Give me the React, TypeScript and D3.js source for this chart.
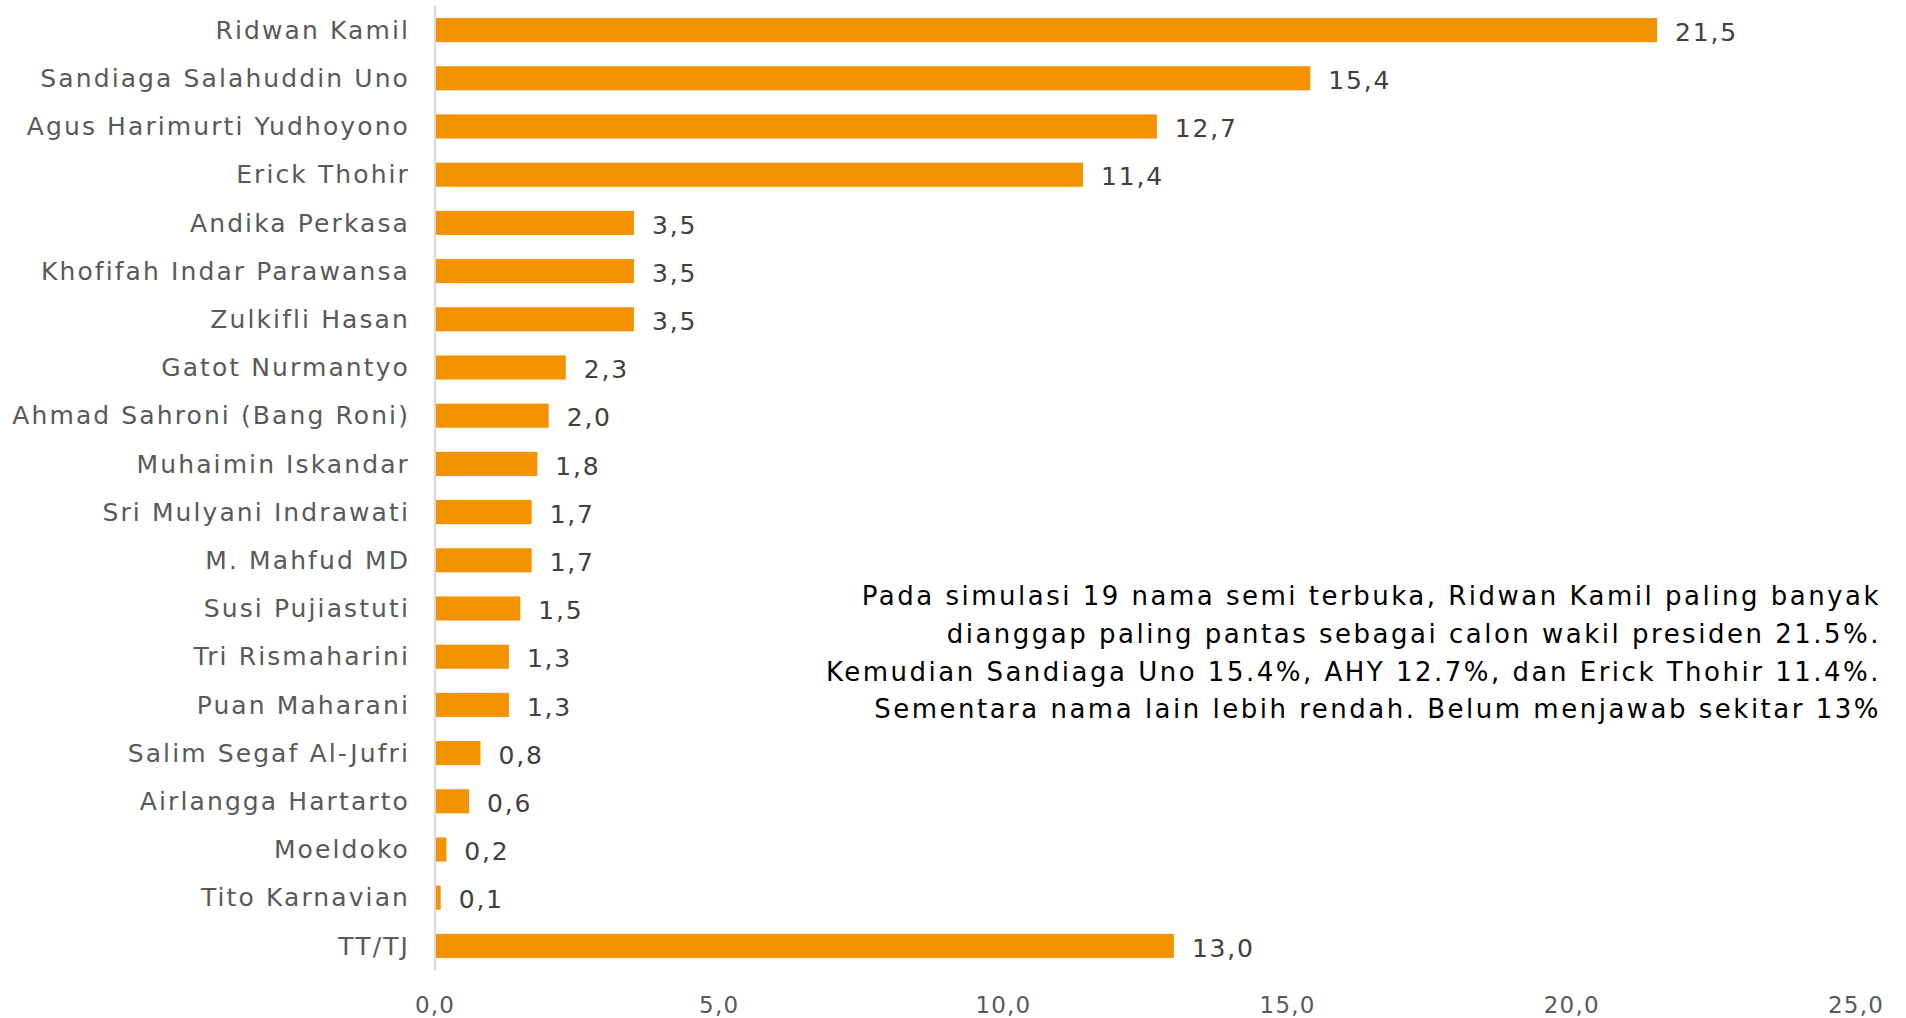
import React from "react";
import * as d3 from "d3";

const categories = [
  "Ridwan Kamil",
  "Sandiaga Salahuddin Uno",
  "Agus Harimurti Yudhoyono",
  "Erick Thohir",
  "Andika Perkasa",
  "Khofifah Indar Parawansa",
  "Zulkifli Hasan",
  "Gatot Nurmantyo",
  "Ahmad Sahroni (Bang Roni)",
  "Muhaimin Iskandar",
  "Sri Mulyani Indrawati",
  "M. Mahfud MD",
  "Susi Pujiastuti",
  "Tri Rismaharini",
  "Puan Maharani",
  "Salim Segaf Al-Jufri",
  "Airlangga Hartarto",
  "Moeldoko",
  "Tito Karnavian",
  "TT/TJ",
];

const values = [21.5, 15.4, 12.7, 11.4, 3.5, 3.5, 3.5, 2.3, 2.0, 1.8, 1.7, 1.7, 1.5, 1.3, 1.3, 0.8, 0.6, 0.2, 0.1, 13.0];

const xTicks = [0, 5, 10, 15, 20, 25];

const noteLines = [
  "Pada simulasi 19 nama semi terbuka, Ridwan Kamil paling banyak",
  "dianggap paling pantas sebagai calon wakil presiden 21.5%.",
  "Kemudian Sandiaga Uno 15.4%, AHY 12.7%, dan Erick Thohir 11.4%.",
  "Sementara nama lain lebih rendah. Belum menjawab sekitar 13%",
];

const W = 1906;
const H = 1018;
const FONT = "'Century Gothic', 'URW Gothic', 'DejaVu Sans', sans-serif";
const fmt = (v: number) => v.toFixed(1).replace(".", ",");

export default function App() {
  const x = d3.scaleLinear().domain([0, 25]).range([435, 1856]);
  const y = d3
    .scaleBand<string>()
    .domain(categories)
    .range([6, 970])
    .paddingInner(0.5)
    .paddingOuter(0.25);
  const bw = y.bandwidth();

  return (
    <svg
      width={W}
      height={H}
      style={{ position: "absolute", left: 0, top: 0, background: "#fff" }}
      fontFamily={FONT}
    >
      {categories.map((c, i) => (
        <g key={c}>
          <rect
            x={x(0) + 1}
            y={y(c)!}
            width={x(values[i]) - x(0) - 1}
            height={bw}
            fill="#F59200"
          />
          <text
            x={410}
            y={y(c)! + bw / 2}
            dy="0.35em"
            textAnchor="end"
            fontSize={25}
            letterSpacing={2.1}
            fill="#595959"
          >
            {c}
          </text>
          <text
            x={x(values[i]) + 18}
            y={y(c)! + bw / 2 + 2}
            dy="0.35em"
            fontSize={25}
            letterSpacing={1.8}
            fill="#404040"
          >
            {fmt(values[i])}
          </text>
        </g>
      ))}
      <line x1={x(0)} x2={x(0)} y1={6} y2={970} stroke="#D9D9D9" strokeWidth={2} />
      {xTicks.map((t) => (
        <text
          key={t}
          x={x(t)}
          y={1005}
          dy="0.35em"
          textAnchor="middle"
          fontSize={23}
          letterSpacing={1.2}
          fill="#595959"
        >
          {fmt(t)}
        </text>
      ))}
      {noteLines.map((l, i) => (
        <text
          key={i}
          x={1881}
          y={596 + i * 37.7}
          dy="0.35em"
          textAnchor="end"
          fontSize={26}
          letterSpacing={2.5}
          fill="#000"
        >
          {l}
        </text>
      ))}
    </svg>
  );
}
